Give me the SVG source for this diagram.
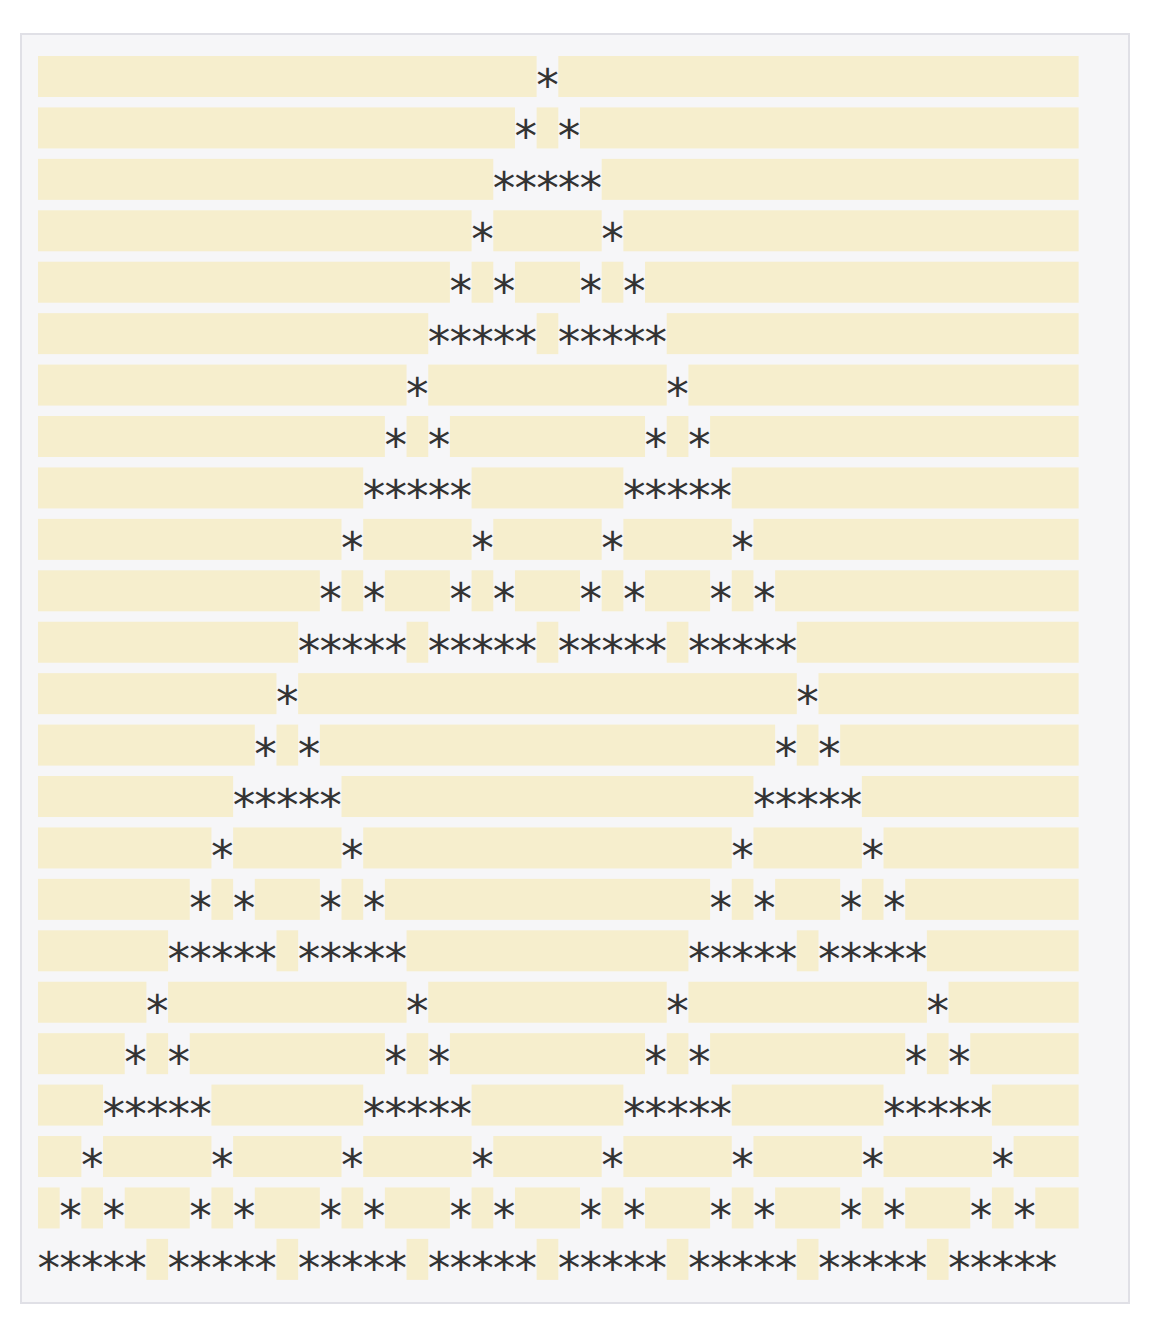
<svg xmlns="http://www.w3.org/2000/svg" width="1164" height="1318" viewBox="0 0 1164 1318" xml:space="preserve">
<style>
.sp rect{fill:#f6eecd}
text{font-family:"DejaVu Sans Mono",monospace;font-size:45px;letter-spacing:-5.412px;fill:#333333;white-space:pre}
.t{transform:translate(-2.71px,0)}
</style>
<rect x="0" y="0" width="1164" height="1318" fill="#ffffff"/>
<rect id="panel" x="21" y="34" width="1108" height="1269" fill="#f6f6f8" stroke="#e0e0e6" stroke-width="2"/>
<g id="row-01" transform="translate(0,56)"><g class="sp" transform="translate(38,0) scale(21.68,1)"><rect x="0" width="23" height="41"/><rect x="24" width="24" height="41"/></g><g class="t"><text x="536.64" y="45">*</text></g></g>
<g id="row-02" transform="translate(0,107.43)"><g class="sp" transform="translate(38,0) scale(21.68,1)"><rect x="0" width="22" height="41"/><rect x="23" width="1" height="41"/><rect x="25" width="23" height="41"/></g><g class="t"><text x="514.96" y="45">* *</text></g></g>
<g id="row-03" transform="translate(0,158.86)"><g class="sp" transform="translate(38,0) scale(21.68,1)"><rect x="0" width="21" height="41"/><rect x="26" width="22" height="41"/></g><g class="t"><text x="493.28" y="45">*****</text></g></g>
<g id="row-04" transform="translate(0,210.29)"><g class="sp" transform="translate(38,0) scale(21.68,1)"><rect x="0" width="20" height="41"/><rect x="21" width="5" height="41"/><rect x="27" width="21" height="41"/></g><g class="t"><text x="471.6" y="45">*     *</text></g></g>
<g id="row-05" transform="translate(0,261.72)"><g class="sp" transform="translate(38,0) scale(21.68,1)"><rect x="0" width="19" height="41"/><rect x="20" width="1" height="41"/><rect x="22" width="3" height="41"/><rect x="26" width="1" height="41"/><rect x="28" width="20" height="41"/></g><g class="t"><text x="449.92" y="45">* *   * *</text></g></g>
<g id="row-06" transform="translate(0,313.15)"><g class="sp" transform="translate(38,0) scale(21.68,1)"><rect x="0" width="18" height="41"/><rect x="23" width="1" height="41"/><rect x="29" width="19" height="41"/></g><g class="t"><text x="428.24" y="45">***** *****</text></g></g>
<g id="row-07" transform="translate(0,364.58)"><g class="sp" transform="translate(38,0) scale(21.68,1)"><rect x="0" width="17" height="41"/><rect x="18" width="11" height="41"/><rect x="30" width="18" height="41"/></g><g class="t"><text x="406.56" y="45">*           *</text></g></g>
<g id="row-08" transform="translate(0,416.01)"><g class="sp" transform="translate(38,0) scale(21.68,1)"><rect x="0" width="16" height="41"/><rect x="17" width="1" height="41"/><rect x="19" width="9" height="41"/><rect x="29" width="1" height="41"/><rect x="31" width="17" height="41"/></g><g class="t"><text x="384.88" y="45">* *         * *</text></g></g>
<g id="row-09" transform="translate(0,467.44)"><g class="sp" transform="translate(38,0) scale(21.68,1)"><rect x="0" width="15" height="41"/><rect x="20" width="7" height="41"/><rect x="32" width="16" height="41"/></g><g class="t"><text x="363.2" y="45">*****       *****</text></g></g>
<g id="row-10" transform="translate(0,518.87)"><g class="sp" transform="translate(38,0) scale(21.68,1)"><rect x="0" width="14" height="41"/><rect x="15" width="5" height="41"/><rect x="21" width="5" height="41"/><rect x="27" width="5" height="41"/><rect x="33" width="15" height="41"/></g><g class="t"><text x="341.52" y="45">*     *     *     *</text></g></g>
<g id="row-11" transform="translate(0,570.3)"><g class="sp" transform="translate(38,0) scale(21.68,1)"><rect x="0" width="13" height="41"/><rect x="14" width="1" height="41"/><rect x="16" width="3" height="41"/><rect x="20" width="1" height="41"/><rect x="22" width="3" height="41"/><rect x="26" width="1" height="41"/><rect x="28" width="3" height="41"/><rect x="32" width="1" height="41"/><rect x="34" width="14" height="41"/></g><g class="t"><text x="319.84" y="45">* *   * *   * *   * *</text></g></g>
<g id="row-12" transform="translate(0,621.73)"><g class="sp" transform="translate(38,0) scale(21.68,1)"><rect x="0" width="12" height="41"/><rect x="17" width="1" height="41"/><rect x="23" width="1" height="41"/><rect x="29" width="1" height="41"/><rect x="35" width="13" height="41"/></g><g class="t"><text x="298.16" y="45">***** ***** ***** *****</text></g></g>
<g id="row-13" transform="translate(0,673.16)"><g class="sp" transform="translate(38,0) scale(21.68,1)"><rect x="0" width="11" height="41"/><rect x="12" width="23" height="41"/><rect x="36" width="12" height="41"/></g><g class="t"><text x="276.48" y="45">*                       *</text></g></g>
<g id="row-14" transform="translate(0,724.59)"><g class="sp" transform="translate(38,0) scale(21.68,1)"><rect x="0" width="10" height="41"/><rect x="11" width="1" height="41"/><rect x="13" width="21" height="41"/><rect x="35" width="1" height="41"/><rect x="37" width="11" height="41"/></g><g class="t"><text x="254.8" y="45">* *                     * *</text></g></g>
<g id="row-15" transform="translate(0,776.02)"><g class="sp" transform="translate(38,0) scale(21.68,1)"><rect x="0" width="9" height="41"/><rect x="14" width="19" height="41"/><rect x="38" width="10" height="41"/></g><g class="t"><text x="233.12" y="45">*****                   *****</text></g></g>
<g id="row-16" transform="translate(0,827.45)"><g class="sp" transform="translate(38,0) scale(21.68,1)"><rect x="0" width="8" height="41"/><rect x="9" width="5" height="41"/><rect x="15" width="17" height="41"/><rect x="33" width="5" height="41"/><rect x="39" width="9" height="41"/></g><g class="t"><text x="211.44" y="45">*     *                 *     *</text></g></g>
<g id="row-17" transform="translate(0,878.88)"><g class="sp" transform="translate(38,0) scale(21.68,1)"><rect x="0" width="7" height="41"/><rect x="8" width="1" height="41"/><rect x="10" width="3" height="41"/><rect x="14" width="1" height="41"/><rect x="16" width="15" height="41"/><rect x="32" width="1" height="41"/><rect x="34" width="3" height="41"/><rect x="38" width="1" height="41"/><rect x="40" width="8" height="41"/></g><g class="t"><text x="189.76" y="45">* *   * *               * *   * *</text></g></g>
<g id="row-18" transform="translate(0,930.31)"><g class="sp" transform="translate(38,0) scale(21.68,1)"><rect x="0" width="6" height="41"/><rect x="11" width="1" height="41"/><rect x="17" width="13" height="41"/><rect x="35" width="1" height="41"/><rect x="41" width="7" height="41"/></g><g class="t"><text x="168.08" y="45">***** *****             ***** *****</text></g></g>
<g id="row-19" transform="translate(0,981.74)"><g class="sp" transform="translate(38,0) scale(21.68,1)"><rect x="0" width="5" height="41"/><rect x="6" width="11" height="41"/><rect x="18" width="11" height="41"/><rect x="30" width="11" height="41"/><rect x="42" width="6" height="41"/></g><g class="t"><text x="146.4" y="45">*           *           *           *</text></g></g>
<g id="row-20" transform="translate(0,1033.17)"><g class="sp" transform="translate(38,0) scale(21.68,1)"><rect x="0" width="4" height="41"/><rect x="5" width="1" height="41"/><rect x="7" width="9" height="41"/><rect x="17" width="1" height="41"/><rect x="19" width="9" height="41"/><rect x="29" width="1" height="41"/><rect x="31" width="9" height="41"/><rect x="41" width="1" height="41"/><rect x="43" width="5" height="41"/></g><g class="t"><text x="124.72" y="45">* *         * *         * *         * *</text></g></g>
<g id="row-21" transform="translate(0,1084.6)"><g class="sp" transform="translate(38,0) scale(21.68,1)"><rect x="0" width="3" height="41"/><rect x="8" width="7" height="41"/><rect x="20" width="7" height="41"/><rect x="32" width="7" height="41"/><rect x="44" width="4" height="41"/></g><g class="t"><text x="103.04" y="45">*****       *****       *****       *****</text></g></g>
<g id="row-22" transform="translate(0,1136.03)"><g class="sp" transform="translate(38,0) scale(21.68,1)"><rect x="0" width="2" height="41"/><rect x="3" width="5" height="41"/><rect x="9" width="5" height="41"/><rect x="15" width="5" height="41"/><rect x="21" width="5" height="41"/><rect x="27" width="5" height="41"/><rect x="33" width="5" height="41"/><rect x="39" width="5" height="41"/><rect x="45" width="3" height="41"/></g><g class="t"><text x="81.36" y="45">*     *     *     *     *     *     *     *</text></g></g>
<g id="row-23" transform="translate(0,1187.46)"><g class="sp" transform="translate(38,0) scale(21.68,1)"><rect x="0" width="1" height="41"/><rect x="2" width="1" height="41"/><rect x="4" width="3" height="41"/><rect x="8" width="1" height="41"/><rect x="10" width="3" height="41"/><rect x="14" width="1" height="41"/><rect x="16" width="3" height="41"/><rect x="20" width="1" height="41"/><rect x="22" width="3" height="41"/><rect x="26" width="1" height="41"/><rect x="28" width="3" height="41"/><rect x="32" width="1" height="41"/><rect x="34" width="3" height="41"/><rect x="38" width="1" height="41"/><rect x="40" width="3" height="41"/><rect x="44" width="1" height="41"/><rect x="46" width="2" height="41"/></g><g class="t"><text x="59.68" y="45">* *   * *   * *   * *   * *   * *   * *   * *</text></g></g>
<g id="row-24" transform="translate(0,1238.89)"><g class="sp" transform="translate(38,0) scale(21.68,1)"><rect x="5" width="1" height="41"/><rect x="11" width="1" height="41"/><rect x="17" width="1" height="41"/><rect x="23" width="1" height="41"/><rect x="29" width="1" height="41"/><rect x="35" width="1" height="41"/><rect x="41" width="1" height="41"/></g><g class="t"><text x="38" y="45">***** ***** ***** ***** ***** ***** ***** *****</text></g></g>
</svg>
